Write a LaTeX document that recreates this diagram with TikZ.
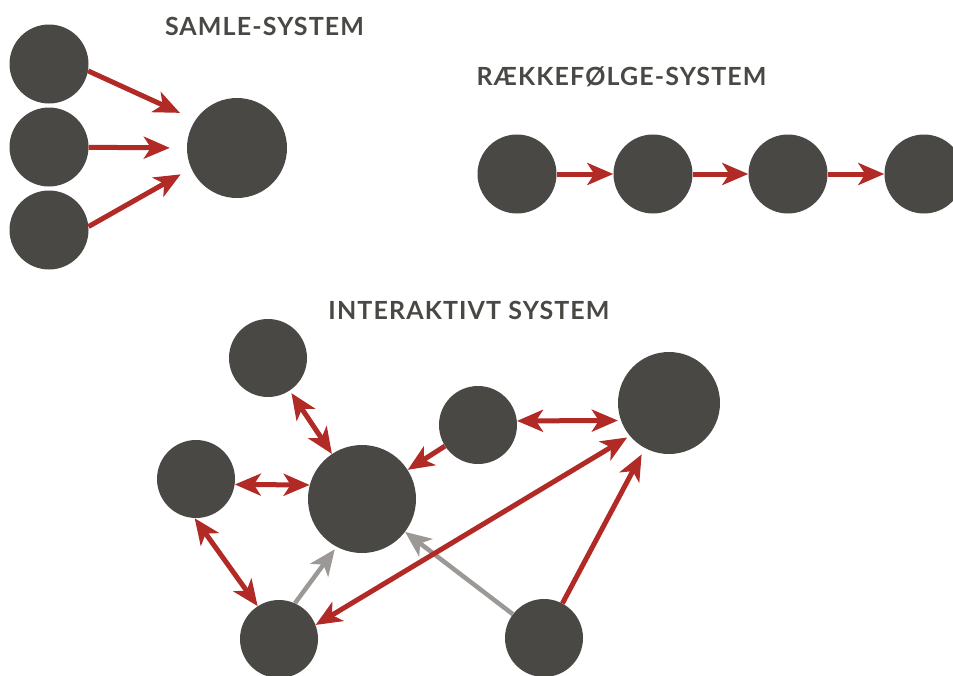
\documentclass[tikz,border=0pt]{standalone}
\usepackage{fontspec}
\setmainfont{Lato}
\newfontfamily\ttlfont[LetterSpace=4.5]{Lato}
\usetikzlibrary{arrows.meta,positioning}
\definecolor{dotgray}{HTML}{4A4844}
\definecolor{arrred}{HTML}{B22A25}
\definecolor{arrgray}{HTML}{9B9896}
\begin{document}
\begin{tikzpicture}[x=1pt,y=-1pt,
    >={Stealth[length=26pt,width=22pt,inset=7pt]},
    dot/.style={circle,fill=dotgray,inner sep=0pt,minimum size=#1},dot/.default=79pt,
    arr/.style={draw=arrred,line width=5pt,->},
    darr/.style={draw=arrred,line width=5pt,<->},
    garr/.style={draw=arrgray,line width=4.5pt,->},
    ttl/.style={anchor=base,text=dotgray,font=\ttlfont\bfseries\fontsize{25}{29}\selectfont}]
                      \useasboundingbox (0,0) rectangle (953,675);
                      \clip (0,0) rectangle (953,675);
                      % samle
                      \node[ttl] (t1) at (264.5,35) {SAMLE-SYSTEM};
                      \node[dot] (l1) at (49,64) {};
                      \node[dot] (l2) at (49,147) {};
                      \node[dot] (l3) at (49,230) {};
                      \node[dot=100pt] (s) at (237,148) {};
                      \draw[arr,shorten >=17pt] (l1.-10) -- (s.146);
                      \draw[arr,shorten >=17pt] (l2) -- (s.west);
                      \draw[arr,shorten >=12pt] (l3.5) -- (s.204);

                      % raekkefoelge
                      \node[ttl] (t2) at (621.5,85) {RÆKKEFØLGE-SYSTEM};
                      \node[dot] (r1) at (517,174) {};
                      \node[dot] (r2) at (653,174) {};
                      \node[dot] (r3) at (788,174) {};
                      \node[dot] (r4) at (924,174) {};
                      \draw[arr] (r1) -- (r2);
                      \draw[arr] (r2) -- (r3);
                      \draw[arr] (r3) -- (r4);

                      % interaktivt
                      \node[ttl] (t3) at (469,319) {INTERAKTIVT SYSTEM};
                      \node[dot=78pt] (a) at (268,358) {};
                      \node[dot=78pt] (b) at (196,479) {};
                      \node[dot=108pt] (c) at (362,499) {};
                      \node[dot=78pt] (d) at (478,425) {};
                      \node[dot=102pt] (e) at (669,403) {};
                      \node[dot=78pt] (f) at (279,639) {};
                      \node[dot=78pt] (g) at (544,638) {};
                      \draw[garr,shorten >=3pt] (f.66) -- (c.242);
                      \draw[garr] (g) -- (c);
                      \draw[darr,shorten <=3pt] (a) -- (c);
                      \draw[darr] (b.-8) -- (c.165);
                      \draw[arr] (d) -- (c);
                      \draw[darr,shorten >=3pt] (d.6) -- (e.200);
                      \draw[darr] (b.-92) -- (f.123);
                      \draw[darr,shorten >=3pt] (f.21) -- (e.220);
                      \draw[arr,shorten >=7pt] (g) -- (e);
                    \end{tikzpicture}
\end{document}
